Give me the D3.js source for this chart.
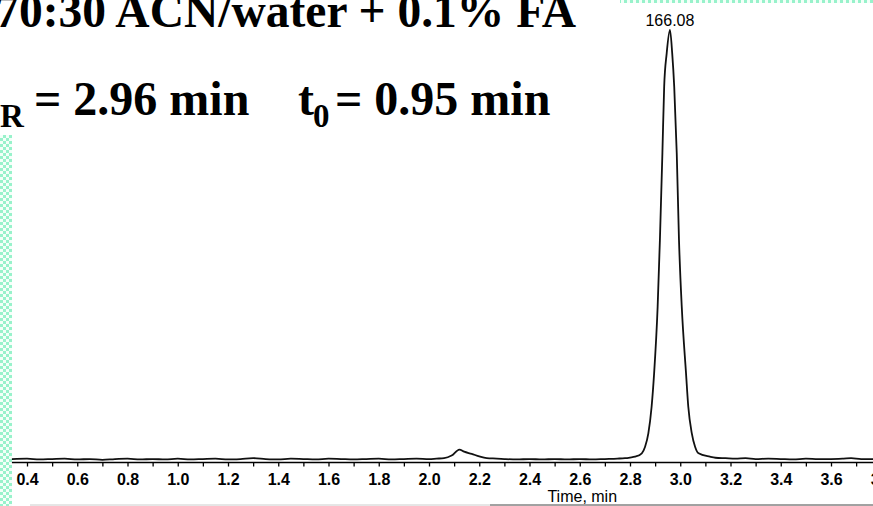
<!DOCTYPE html>
<html>
<head>
<meta charset="utf-8">
<script src="https://cdn.jsdelivr.net/npm/d3@7"></script>
<style>
  body { margin: 0; background: #fff; }
  svg { display: block; }
</style>
</head>
<body>
<svg width="873" height="506"></svg>
<script>
// chromatogram trace (time in min, relative intensity)
const times = [0.34, 0.40, 0.45, 0.50, 0.55, 0.60, 0.65, 0.70, 0.75, 0.80, 0.85, 0.90, 0.95,
  1.00, 1.05, 1.10, 1.15, 1.20, 1.25, 1.30, 1.35, 1.40, 1.45, 1.50, 1.55, 1.60, 1.65, 1.70,
  1.75, 1.80, 1.85, 1.90, 1.95, 2.00, 2.03, 2.06, 2.09, 2.121, 2.14, 2.17, 2.20, 2.23, 2.27,
  2.30, 2.35, 2.40, 2.45, 2.50, 2.55, 2.60, 2.65, 2.70, 2.75, 2.78, 2.80, 2.820, 2.847, 2.860,
  2.873, 2.886, 2.896, 2.910, 2.919, 2.929, 2.936, 2.946, 2.959, 2.968, 2.976, 2.986, 2.995,
  3.006, 3.023, 3.032, 3.046, 3.059, 3.073, 3.118, 3.14, 3.18, 3.22, 3.26, 3.30, 3.35, 3.40,
  3.45, 3.50, 3.55, 3.60, 3.65, 3.68, 3.72, 3.78];
const intensity = [0.8, 0.9, 0.7, 0.8, 0.9, 0.7, 0.8, 0.6, 0.8, 0.9, 0.7, 0.8, 0.7,
  0.9, 0.7, 0.8, 0.9, 0.7, 0.8, 1.0, 0.8, 0.7, 0.9, 0.8, 0.7, 0.9, 0.8, 0.7,
  0.8, 0.9, 0.7, 0.8, 0.9, 0.8, 0.9, 1.0, 1.6, 3.0, 2.5, 2.0, 1.4, 1.0, 0.9,
  0.8, 0.7, 0.8, 0.7, 0.8, 0.7, 0.8, 0.7, 0.8, 0.9, 1.0, 1.15, 1.34, 2.13, 3.65,
  6.75, 12.9, 20.6, 36.0, 51.4, 71.6, 86.9, 94.6, 100, 94.6, 86.9, 71.6, 51.4,
  36.0, 20.6, 12.9, 6.75, 3.65, 2.13, 1.34, 1.1, 1.0, 0.9, 1.0, 0.8, 0.9, 0.8,
  0.7, 0.9, 0.8, 0.8, 0.9, 1.0, 0.8, 0.8];

const majorTicks = [0.4, 0.6, 0.8, 1.0, 1.2, 1.4, 1.6, 1.8, 2.0, 2.2, 2.4, 2.6, 2.8, 3.0, 3.2, 3.4, 3.6, 3.8];
const minorTicks = [0.5, 0.7, 0.9, 1.1, 1.3, 1.5, 1.7, 1.9, 2.1, 2.3, 2.5, 2.7, 2.9, 3.1, 3.3, 3.5, 3.7];
const peakTime = 2.959, peakLabel = "166.08";

var svg = d3.select("svg"),
    width = +svg.attr("width"),
    height = +svg.attr("height");

var x = d3.scaleLinear().domain([0.4, 3.6]).range([27, 831]);
var y = d3.scaleLinear().domain([0, 100]).range([462.5, 30]);

// checker border strips
var defs = svg.append("defs");
var pat = defs.append("pattern")
    .attr("id", "checker")
    .attr("width", 6).attr("height", 6)
    .attr("patternUnits", "userSpaceOnUse");
pat.append("rect").attr("width", 6).attr("height", 6).attr("fill", "#f4fff9");
pat.append("rect").attr("width", 3).attr("height", 3).attr("fill", "#98f2cb");
pat.append("rect").attr("x", 3).attr("y", 3).attr("width", 3).attr("height", 3).attr("fill", "#98f2cb");

svg.append("rect").attr("x", 0).attr("y", 135).attr("width", 12).attr("height", height - 135)
    .attr("fill", "url(#checker)");
svg.append("rect").attr("x", 620).attr("y", 0).attr("width", width - 620).attr("height", 3)
    .attr("fill", "url(#checker)");

// titles
var title = svg.append("g")
    .style("font-family", "'Liberation Serif', 'Times New Roman', serif")
    .style("font-weight", "bold")
    .attr("fill", "#000");
title.append("text").attr("x", 576).attr("y", 27)
    .attr("text-anchor", "end").style("font-size", "47.5px")
    .text("70:30 ACN/water + 0.1% FA");
title.append("text").attr("x", -17).attr("y", 115).style("font-size", "48px").text("t");
title.append("text").attr("x", 0).attr("y", 127).style("font-size", "33px").text("R");
title.append("text").attr("x", 34).attr("y", 115).style("font-size", "48px").text("= 2.96 min");
title.append("text").attr("x", 298).attr("y", 115).style("font-size", "48px").text("t");
title.append("text").attr("x", 313).attr("y", 127).style("font-size", "33px").text("0");
title.append("text").attr("x", 335).attr("y", 115).style("font-size", "48px").text("= 0.95 min");

// axis
var axisG = svg.append("g").attr("transform", "translate(0," + y(0) + ")");
axisG.append("line")
    .attr("x1", x(0.34)).attr("x2", width)
    .attr("stroke", "#000").attr("stroke-width", 1.6);
axisG.append("g")
    .call(d3.axisBottom(x).tickValues(minorTicks).tickSize(4).tickFormat(""))
    .call(g => g.select(".domain").remove())
    .selectAll("line").attr("stroke-width", 1.3);
var major = axisG.append("g")
    .call(d3.axisBottom(x).tickValues(majorTicks).tickSize(4).tickFormat(d3.format(".1f")))
    .call(g => g.select(".domain").remove());
major.selectAll("line").attr("stroke-width", 1.3);
major.selectAll("text")
    .attr("y", 11).attr("dy", "0.71em")
    .style("font-family", "'Liberation Sans', Arial, sans-serif")
    .style("font-weight", "bold")
    .style("font-size", "16px")
    .attr("fill", "#000");

svg.append("text")
    .attr("x", x(2.61)).attr("y", 502)
    .attr("text-anchor", "middle")
    .style("font-family", "'Liberation Sans', Arial, sans-serif")
    .style("font-size", "16px")
    .text("Time, min");

// bottom frame line
svg.append("line").attr("x1", 30).attr("x2", 490).attr("y1", 505).attr("y2", 505)
    .attr("stroke", "#ccc").attr("stroke-width", 1);
svg.append("line").attr("x1", 490).attr("x2", width).attr("y1", 505).attr("y2", 505)
    .attr("stroke", "#444").attr("stroke-width", 1);

// trace
var line = d3.line()
    .x(function(d, i) { return x(times[i]); })
    .y(function(d) { return y(d); })
    .curve(d3.curveMonotoneX);
svg.append("path")
    .datum(intensity)
    .attr("d", line)
    .attr("fill", "none")
    .attr("stroke", "#111")
    .attr("stroke-width", 1.8)
    .attr("stroke-linejoin", "round");

svg.append("text")
    .attr("x", x(peakTime)).attr("y", 26)
    .attr("text-anchor", "middle")
    .style("font-family", "'Liberation Sans', Arial, sans-serif")
    .style("font-size", "16px")
    .text(peakLabel);
</script>
</body>
</html>
